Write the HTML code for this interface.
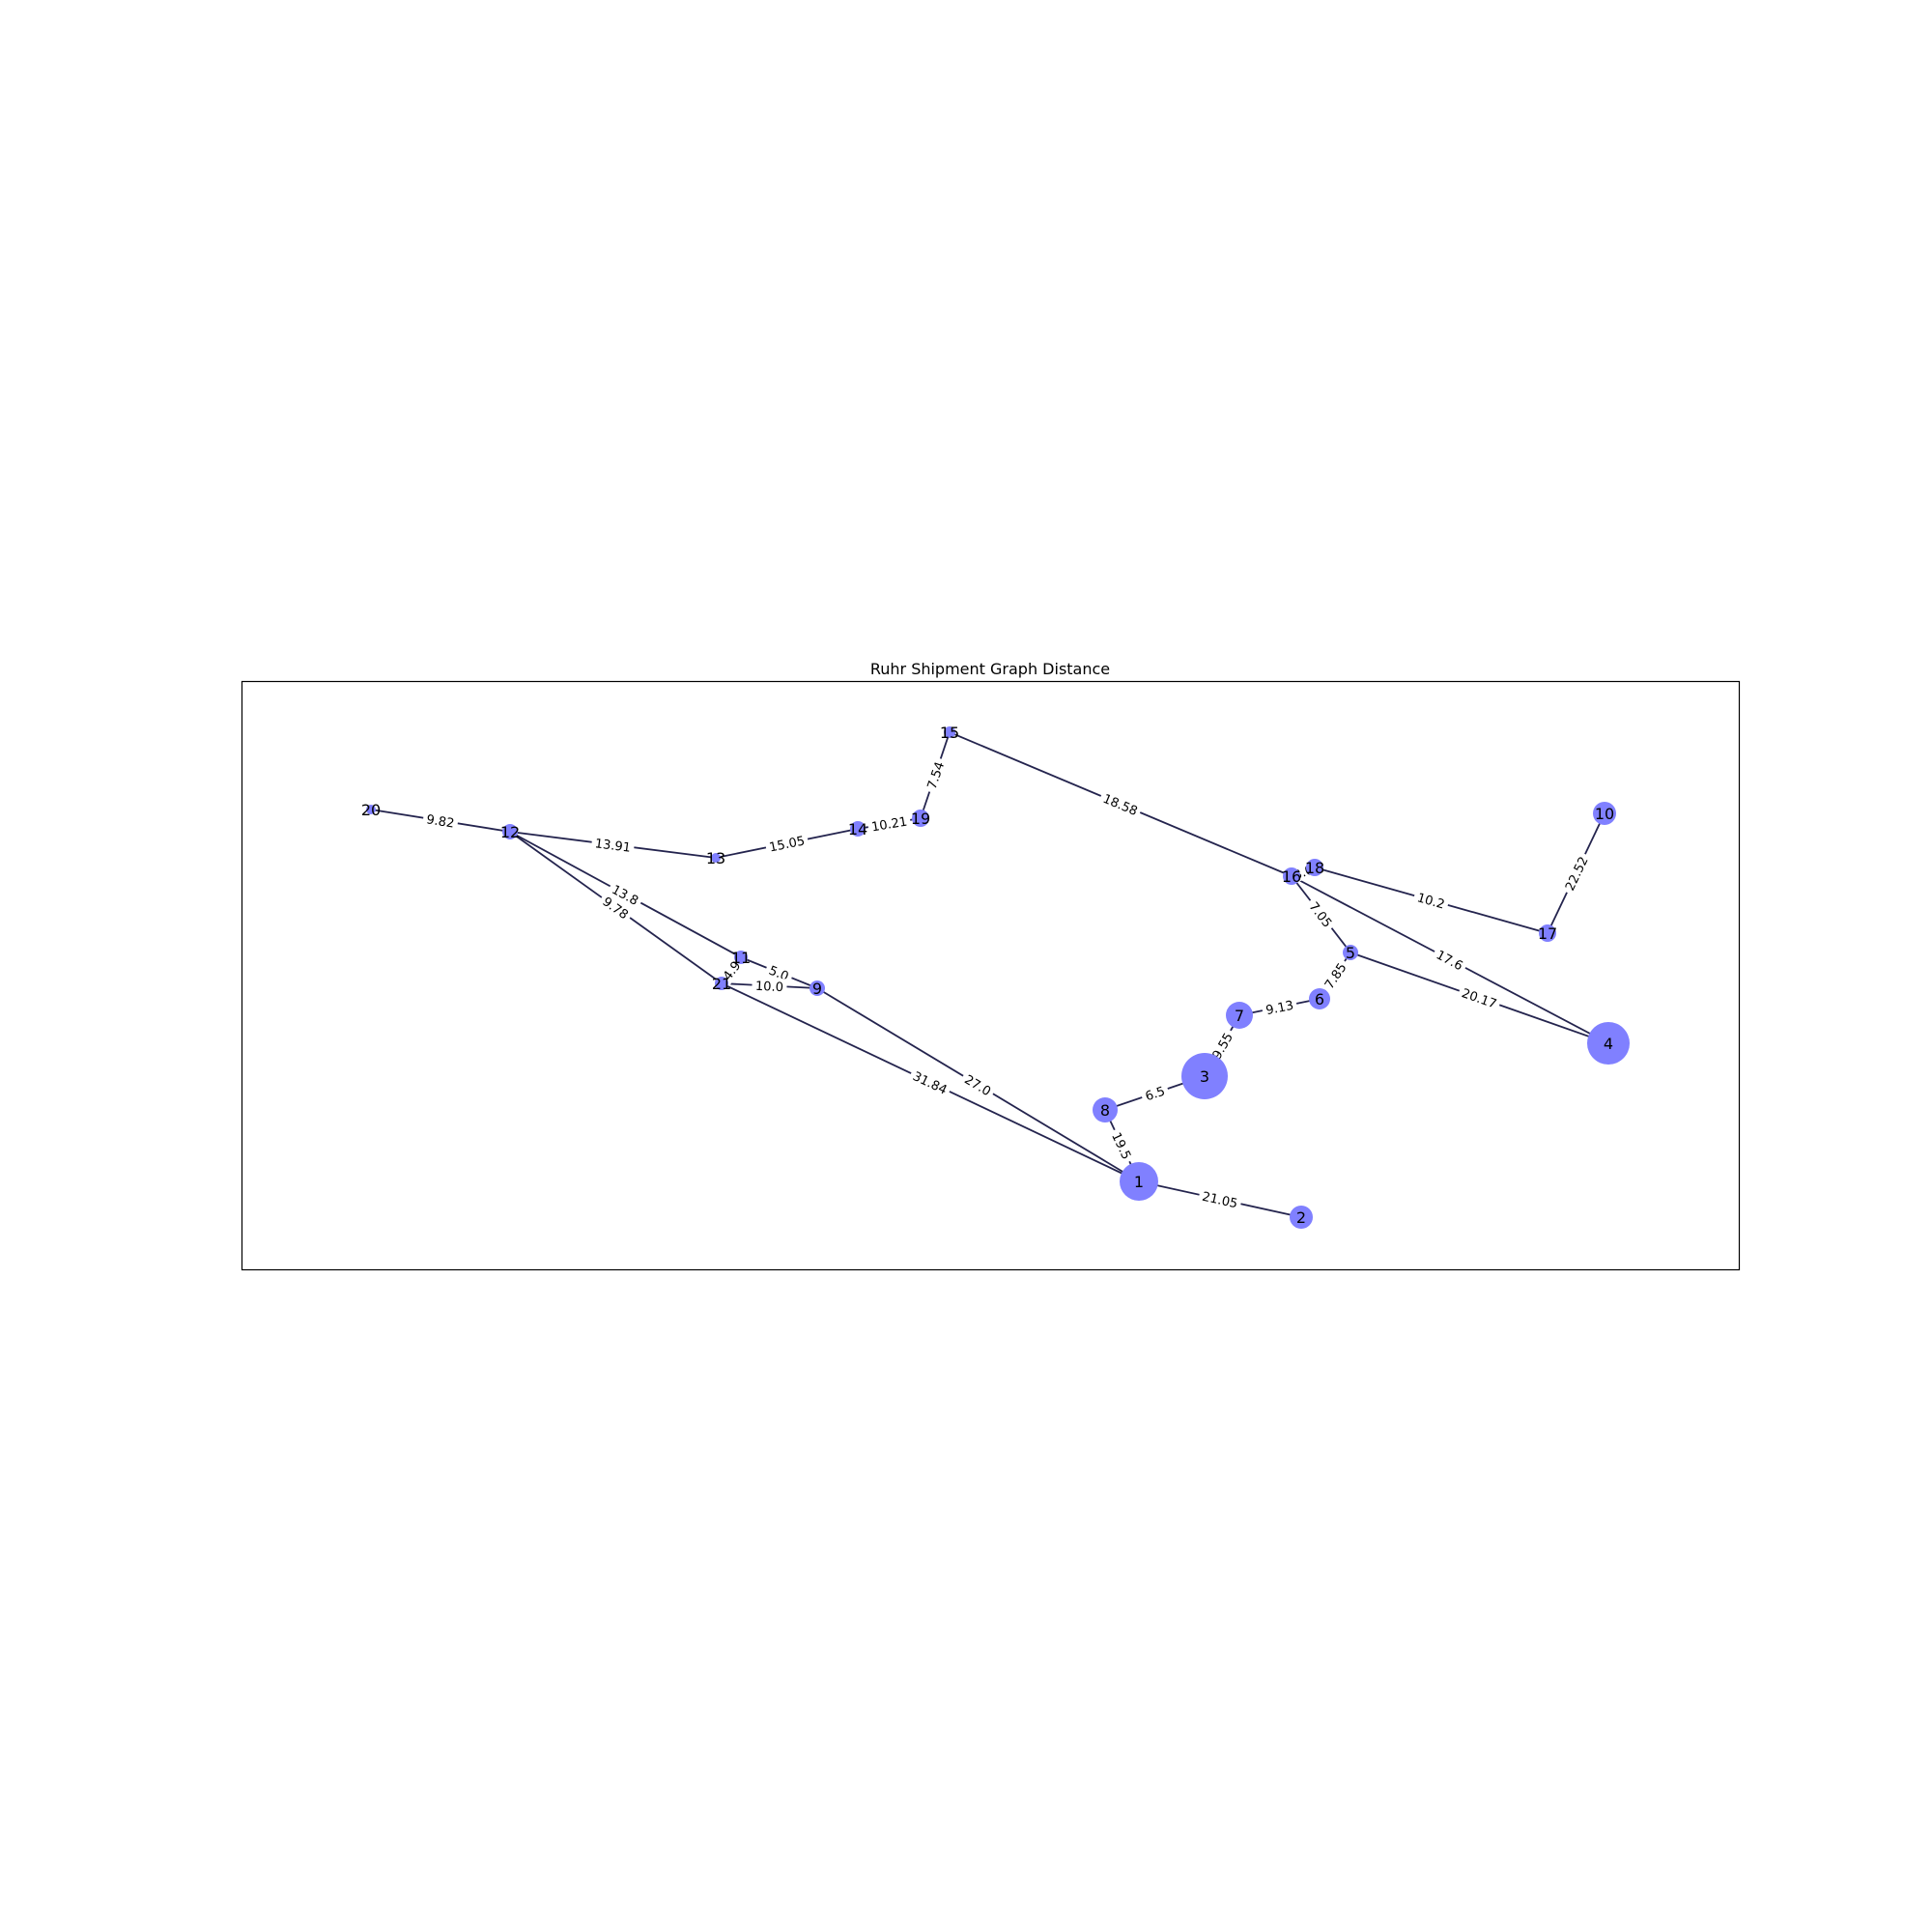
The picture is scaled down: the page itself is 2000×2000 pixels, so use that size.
<!DOCTYPE html>
<html><head><meta charset="utf-8"><style>
body{margin:0;background:#fff;}
svg{display:block;font-family:"DejaVu Sans","Liberation Sans",sans-serif;}
</style></head><body>
<svg id="chart" width="2000" height="2000" viewBox="0 0 2000 2000">
<rect x="250.5" y="705.5" width="1550" height="609" fill="none" stroke="#000" stroke-width="1.2"/>
<text x="1025" y="698" text-anchor="middle" font-size="16">Ruhr Shipment Graph Distance</text>
<g id="edges"></g><g id="elabels"></g><g id="nodes"></g>
</svg>
<script>
const nodeIds=[1,2,3,4,5,6,7,8,9,10,11,12,13,14,15,16,17,18,19,20,21];
const nodeX=[1179,1347,1247,1665,1398,1366,1283,1144,846,1661,767,528,741,888,983,1337,1602,1361,953,384,747];
const nodeY=[1223,1260,1114,1080,986,1034,1051,1149,1023,842,991,861,888,858,758,907,966,898,847,838,1018];
const nodeR=[20,12,24,22,8,11,14,13,8,12,7,8,5,8,6,9,9,9,9,5,7];
const edgeFrom=[20,12,13,14,19,15,16,18,17,16,16,5,5,6,7,3,8,1,12,12,11,11,21,21,9];
const edgeTo=[12,13,14,19,15,16,18,17,10,5,4,4,6,7,3,8,1,2,11,21,21,9,9,1,1];
const edgeW=["9.82","13.91","15.05","10.21","7.54","18.58","3.0","10.2","22.52","7.05","17.6","20.17","7.85","9.13","9.55","6.5","19.5","21.05","13.8","9.78","4.9","5.0","10.0","31.84","27.0"];
const NS="http://www.w3.org/2000/svg";
function mk(t,a){const e=document.createElementNS(NS,t);for(const k in a)e.setAttribute(k,a[k]);return e;}
function px(id){return nodeX[nodeIds.indexOf(id)];}
function py(id){return nodeY[nodeIds.indexOf(id)];}
const gE=document.getElementById('edges'),gL=document.getElementById('elabels'),gN=document.getElementById('nodes');
for(let i=0;i<edgeFrom.length;i++){
 const x1=px(edgeFrom[i]),y1=py(edgeFrom[i]),x2=px(edgeTo[i]),y2=py(edgeTo[i]);
 const l=mk('line',{x1:x1,y1:y1,x2:x2,y2:y2,stroke:'#24244e','stroke-width':1.8});
 
 
 gE.appendChild(l);
 const mx=(x1+x2)/2,my=(y1+y2)/2;
 let ang=Math.atan2(y2-y1,x2-x1)*180/Math.PI;
 if(ang>90)ang-=180; if(ang<-90)ang+=180;
 const g=mk('g',{transform:`translate(${mx},${my}) rotate(${ang})`});
 
 
 const w=edgeW[i].length*8+4;
 g.appendChild(mk('rect',{x:-w/2,y:-8,width:w,height:16,fill:'#fff'}));
 const t=mk('text',{x:0,y:5,'text-anchor':'middle','font-size':13});
 t.textContent=edgeW[i];g.appendChild(t);gL.appendChild(g);
}
for(let i=0;i<nodeIds.length;i++){
 const c=mk('circle',{cx:nodeX[i],cy:nodeY[i],r:nodeR[i],fill:'#8080ff'});
 
 
 gN.appendChild(c);
 const t=mk('text',{x:nodeX[i],y:nodeY[i]+6,'text-anchor':'middle','font-size':16});
 
 
 t.textContent=nodeIds[i];gN.appendChild(t);
}
</script>
</body></html>
